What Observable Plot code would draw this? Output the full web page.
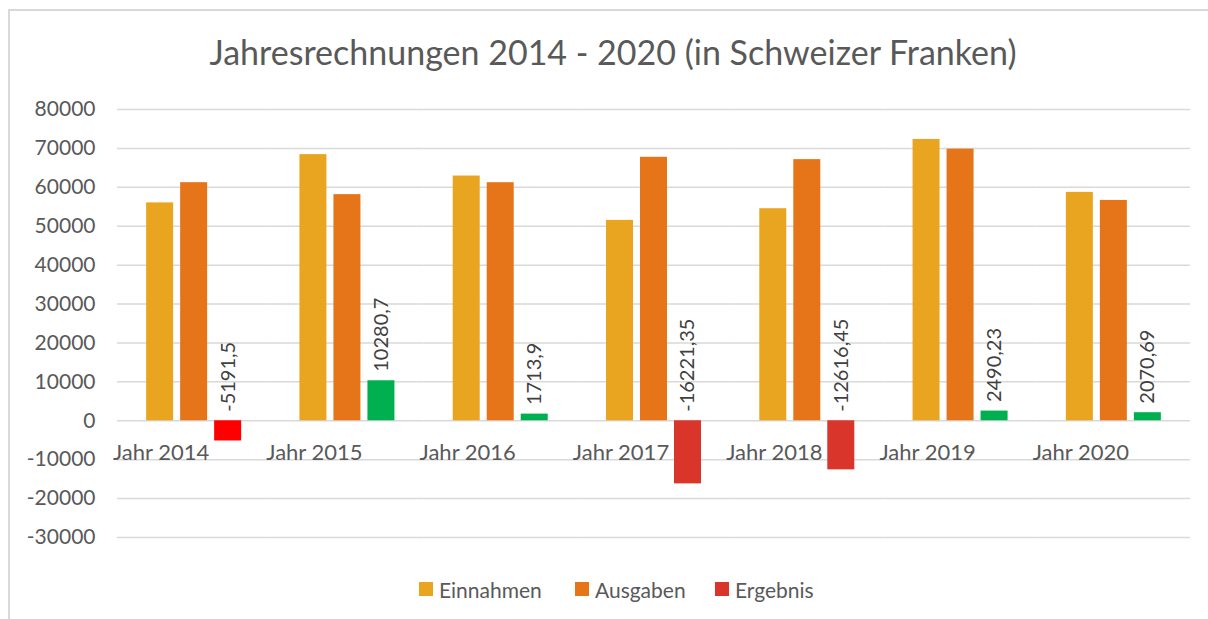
<!DOCTYPE html>
<html>
<head>
<meta charset="utf-8">
<script src="https://cdn.jsdelivr.net/npm/d3@7"></script>
<script src="https://cdn.jsdelivr.net/npm/@observablehq/plot@0.6"></script>
<style>
  html, body { margin: 0; padding: 0; background: #fff; }
  #wrap { position: relative; width: 1208px; height: 619px; overflow: hidden; font-family: Lato, "Open Sans", sans-serif; }
  #frame { position: absolute; left: 8px; top: 9px; width: 1220px; height: 640px; border-left: 2px solid #d9d9d9; border-top: 2px solid #d9d9d9; box-sizing: border-box; }
  #title { position: absolute; left: 8px; width: 1210px; top: 29px; text-align: center; font-size: 34px; color: #595959; line-height: 46px; white-space: nowrap; }
  #chart { position: absolute; left: 0; top: 90px; }
  #legend { position: absolute; left: 0; top: 576px; width: 1208px; height: 26px; }
  .item { position: absolute; top: 0; height: 26px; display: flex; align-items: center; font-size: 21px; color: #595959; }
  .sw { width: 14px; height: 14px; margin-right: 6px; }
</style>
</head>
<body>
<div id="wrap">
  <div id="frame"></div>
  <div id="title">Jahresrechnungen 2014 - 2020 (in Schweizer Franken)</div>
  <div id="chart"></div>
  <div id="legend"></div>
</div>
<script>
const years = ["Jahr 2014", "Jahr 2015", "Jahr 2016", "Jahr 2017", "Jahr 2018", "Jahr 2019", "Jahr 2020"];
const series = ["Einnahmen", "Ausgaben", "Ergebnis"];
const einnahmen = [56000, 68400, 62900, 51500, 54500, 72300, 58700];
const ausgaben = [61191.5, 58119.3, 61186.1, 67721.35, 67116.45, 69809.77, 56629.31];
const ergebnis = [-5191.5, 10280.7, 1713.9, -16221.35, -12616.45, 2490.23, 2070.69];
const yTicks = [-30000, -20000, -10000, 0, 10000, 20000, 30000, 40000, 50000, 60000, 70000, 80000];

const colEin = "#E9A51F", colAus = "#E67519", colPos = "#00B050", colNeg = "#D9352A", colNeg2014 = "#FF0000";
const seriesColors = {Einnahmen: colEin, Ausgaben: colAus, Ergebnis: colNeg};

const rows = [];
years.forEach((y, i) => {
  rows.push({year: y, series: "Einnahmen", value: einnahmen[i]});
  rows.push({year: y, series: "Ausgaben", value: ausgaben[i]});
  rows.push({year: y, series: "Ergebnis", value: ergebnis[i]});
});
const resRows = rows.filter(d => d.series === "Ergebnis");

function barFill(d) {
  if (d.series !== "Ergebnis") return seriesColors[d.series];
  if (d.value >= 0) return colPos;
  return d.year === "Jahr 2014" ? colNeg2014 : colNeg;
}

const chart = Plot.plot({
  width: 1208,
  height: 460,
  marginTop: 19,
  marginBottom: 13,
  marginLeft: 117,
  marginRight: 18,
  style: {fontFamily: "Lato, 'Open Sans', sans-serif", background: "transparent"},
  fx: {domain: years, padding: 0, axis: null, round: false, label: null},
  x: {domain: series, paddingInner: 0.206, paddingOuter: 0.857, axis: null, round: false, label: null},
  y: {domain: [-30000, 80000], axis: null, label: null},
  marks: [
    Plot.gridY({ticks: yTicks, stroke: "#d9d9d9", strokeOpacity: 1, strokeWidth: 1.5}),
    Plot.axisY({ticks: yTicks, tickSize: 0, tickPadding: 22, fontSize: 21, fill: "#595959", tickFormat: d => String(d), label: null}),
    Plot.barY(rows, {fx: "year", x: "series", y: "value", fill: barFill}),
    Plot.text(resRows, {
      fx: "year", x: "series", y: d => Math.max(0, d.value),
      text: d => String(d.value).replace(".", ","),
      rotate: -90, textAnchor: "start", dy: -9, fontSize: 20, fill: "#404040"
    }),
    Plot.text(years, {
      fx: d => d, x: () => "Ausgaben", y: () => 0, text: d => d,
      dy: 32, dx: -33, fontSize: 22, fill: "#595959"
    })
  ]
});
document.getElementById("chart").appendChild(chart);

const legendPos = [419, 575, 715];
const legend = document.getElementById("legend");
series.forEach((s, i) => {
  const it = document.createElement("div");
  it.className = "item";
  it.style.left = legendPos[i] + "px";
  const sw = document.createElement("div");
  sw.className = "sw";
  sw.style.background = seriesColors[s];
  const tx = document.createElement("span");
  tx.textContent = s;
  it.appendChild(sw);
  it.appendChild(tx);
  legend.appendChild(it);
});
</script>
</body>
</html>
